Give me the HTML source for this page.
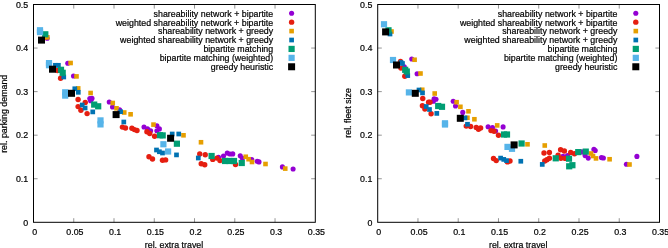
<!DOCTYPE html>
<html><head><meta charset="utf-8"><title>chart</title>
<style>
html,body{margin:0;padding:0;background:#fff;}
svg{display:block;will-change:transform;filter:blur(0.3px);font-family:"Liberation Sans",sans-serif;font-size:8.85px;fill:#000;}
text{stroke:#000;stroke-width:0.2px;}
</style></head><body>
<svg width="668" height="248" viewBox="0 0 668 248">
<rect width="668" height="248" fill="#fff"/>
<rect x="33.5" y="4.5" width="281.80" height="217.80" fill="none" stroke="#000" stroke-width="1"/>
<path d="M73.76 222.3 v-4.1 M73.76 4.5 v4.1 M114.01 222.3 v-4.1 M114.01 4.5 v4.1 M154.27 222.3 v-4.1 M154.27 4.5 v4.1 M194.53 222.3 v-4.1 M194.53 4.5 v4.1 M234.79 222.3 v-4.1 M234.79 4.5 v4.1 M275.04 222.3 v-4.1 M275.04 4.5 v4.1 M33.5 178.74 h4.1 M315.30 178.74 h-4.1 M33.5 135.18 h4.1 M315.30 135.18 h-4.1 M33.5 91.62 h4.1 M315.30 91.62 h-4.1 M33.5 48.06 h4.1 M315.30 48.06 h-4.1" stroke="#000" stroke-width="0.42" fill="none"/>
<text transform="translate(34.60 234.70) scale(1 1.06)" text-anchor="middle">0</text>
<text transform="translate(74.86 234.70) scale(1 1.06)" text-anchor="middle">0.05</text>
<text transform="translate(115.11 234.70) scale(1 1.06)" text-anchor="middle">0.1</text>
<text transform="translate(155.37 234.70) scale(1 1.06)" text-anchor="middle">0.15</text>
<text transform="translate(195.63 234.70) scale(1 1.06)" text-anchor="middle">0.2</text>
<text transform="translate(235.89 234.70) scale(1 1.06)" text-anchor="middle">0.25</text>
<text transform="translate(276.14 234.70) scale(1 1.06)" text-anchor="middle">0.3</text>
<text transform="translate(316.40 234.70) scale(1 1.06)" text-anchor="middle">0.35</text>
<text transform="translate(28.20 225.60) scale(1 1.06)" text-anchor="end">0</text>
<text transform="translate(28.20 182.04) scale(1 1.06)" text-anchor="end">0.1</text>
<text transform="translate(28.20 138.48) scale(1 1.06)" text-anchor="end">0.2</text>
<text transform="translate(28.20 94.92) scale(1 1.06)" text-anchor="end">0.3</text>
<text transform="translate(28.20 51.36) scale(1 1.06)" text-anchor="end">0.4</text>
<text transform="translate(28.20 7.80) scale(1 1.06)" text-anchor="end">0.5</text>
<text transform="translate(174.00 247.50) scale(1 1.06)" text-anchor="middle">rel. extra travel</text>
<text transform="translate(6.80 113.80) rotate(-90) scale(1 1.06)" text-anchor="middle">rel. parking demand</text>
<text transform="translate(273.20 16.65) scale(1 1.06)" text-anchor="end">shareability network + bipartite</text>
<circle cx="291.60" cy="13.25" r="2.55" fill="#9400D3"/>
<text transform="translate(273.20 25.57) scale(1 1.06)" text-anchor="end">weighted shareability network + bipartite</text>
<circle cx="291.60" cy="22.17" r="2.70" fill="#E51E10"/>
<text transform="translate(273.20 34.49) scale(1 1.06)" text-anchor="end">shareability network + greedy</text>
<rect x="289.30" y="28.79" width="4.60" height="4.60" fill="#E69F00"/>
<text transform="translate(273.20 43.41) scale(1 1.06)" text-anchor="end">weighted shareability network + greedy</text>
<rect x="289.25" y="37.66" width="4.70" height="4.70" fill="#0072B2"/>
<text transform="translate(273.20 52.33) scale(1 1.06)" text-anchor="end">bipartite matching</text>
<rect x="288.50" y="45.83" width="6.20" height="6.20" fill="#009E73"/>
<text transform="translate(273.20 61.25) scale(1 1.06)" text-anchor="end">bipartite matching (weighted)</text>
<rect x="288.50" y="54.75" width="6.20" height="6.20" fill="#56B4E9"/>
<text transform="translate(273.20 70.17) scale(1 1.06)" text-anchor="end">greedy heuristic</text>
<rect x="288.10" y="63.27" width="7.00" height="7.00" fill="#000000"/>
<circle cx="47.20" cy="38.30" r="2.55" fill="#9400D3"/>
<circle cx="67.75" cy="63.25" r="2.55" fill="#9400D3"/>
<circle cx="73.50" cy="76.00" r="2.55" fill="#9400D3"/>
<circle cx="89.80" cy="98.60" r="2.55" fill="#9400D3"/>
<circle cx="92.00" cy="98.40" r="2.55" fill="#9400D3"/>
<circle cx="90.60" cy="100.80" r="2.55" fill="#9400D3"/>
<circle cx="109.25" cy="102.00" r="2.55" fill="#9400D3"/>
<circle cx="112.50" cy="107.00" r="2.55" fill="#9400D3"/>
<circle cx="119.60" cy="109.90" r="2.55" fill="#9400D3"/>
<circle cx="144.00" cy="127.00" r="2.55" fill="#9400D3"/>
<circle cx="147.50" cy="128.90" r="2.55" fill="#9400D3"/>
<circle cx="150.60" cy="130.75" r="2.55" fill="#9400D3"/>
<circle cx="156.90" cy="125.75" r="2.55" fill="#9400D3"/>
<circle cx="159.40" cy="128.90" r="2.55" fill="#9400D3"/>
<circle cx="156.90" cy="130.75" r="2.55" fill="#9400D3"/>
<circle cx="218.50" cy="157.25" r="2.55" fill="#9400D3"/>
<circle cx="223.50" cy="156.00" r="2.55" fill="#9400D3"/>
<circle cx="227.25" cy="153.10" r="2.55" fill="#9400D3"/>
<circle cx="230.00" cy="154.00" r="2.55" fill="#9400D3"/>
<circle cx="232.75" cy="153.90" r="2.55" fill="#9400D3"/>
<circle cx="240.25" cy="155.75" r="2.55" fill="#9400D3"/>
<circle cx="242.40" cy="158.25" r="2.55" fill="#9400D3"/>
<circle cx="251.75" cy="159.60" r="2.55" fill="#9400D3"/>
<circle cx="257.20" cy="161.20" r="2.55" fill="#9400D3"/>
<circle cx="259.00" cy="161.90" r="2.55" fill="#9400D3"/>
<circle cx="282.40" cy="166.90" r="2.55" fill="#9400D3"/>
<circle cx="293.10" cy="169.00" r="2.55" fill="#9400D3"/>
<circle cx="44.50" cy="37.50" r="2.70" fill="#E51E10"/>
<circle cx="57.50" cy="70.50" r="2.70" fill="#E51E10"/>
<circle cx="60.60" cy="78.25" r="2.70" fill="#E51E10"/>
<circle cx="78.10" cy="99.50" r="2.70" fill="#E51E10"/>
<circle cx="85.25" cy="102.40" r="2.70" fill="#E51E10"/>
<circle cx="78.10" cy="106.60" r="2.70" fill="#E51E10"/>
<circle cx="80.90" cy="110.25" r="2.70" fill="#E51E10"/>
<circle cx="87.10" cy="113.60" r="2.70" fill="#E51E10"/>
<circle cx="122.40" cy="127.10" r="2.70" fill="#E51E10"/>
<circle cx="125.50" cy="128.00" r="2.70" fill="#E51E10"/>
<circle cx="131.90" cy="128.20" r="2.70" fill="#E51E10"/>
<circle cx="134.40" cy="129.60" r="2.70" fill="#E51E10"/>
<circle cx="137.00" cy="130.50" r="2.70" fill="#E51E10"/>
<circle cx="146.90" cy="131.75" r="2.70" fill="#E51E10"/>
<circle cx="149.75" cy="133.50" r="2.70" fill="#E51E10"/>
<circle cx="154.60" cy="136.30" r="2.70" fill="#E51E10"/>
<circle cx="149.00" cy="156.75" r="2.70" fill="#E51E10"/>
<circle cx="152.50" cy="159.00" r="2.70" fill="#E51E10"/>
<circle cx="162.50" cy="160.25" r="2.70" fill="#E51E10"/>
<circle cx="165.60" cy="159.90" r="2.70" fill="#E51E10"/>
<circle cx="199.75" cy="154.00" r="2.70" fill="#E51E10"/>
<circle cx="205.25" cy="154.75" r="2.70" fill="#E51E10"/>
<circle cx="201.25" cy="163.75" r="2.70" fill="#E51E10"/>
<circle cx="204.75" cy="164.75" r="2.70" fill="#E51E10"/>
<circle cx="212.75" cy="159.40" r="2.70" fill="#E51E10"/>
<circle cx="216.90" cy="158.10" r="2.70" fill="#E51E10"/>
<circle cx="220.00" cy="160.60" r="2.70" fill="#E51E10"/>
<circle cx="235.50" cy="164.50" r="2.70" fill="#E51E10"/>
<rect x="45.00" y="35.00" width="4.60" height="4.60" fill="#E69F00"/>
<rect x="68.30" y="60.70" width="4.60" height="4.60" fill="#E69F00"/>
<rect x="74.20" y="74.10" width="4.60" height="4.60" fill="#E69F00"/>
<rect x="75.90" y="86.10" width="4.60" height="4.60" fill="#E69F00"/>
<rect x="88.30" y="90.70" width="4.60" height="4.60" fill="#E69F00"/>
<rect x="110.45" y="100.70" width="4.60" height="4.60" fill="#E69F00"/>
<rect x="114.20" y="106.00" width="4.60" height="4.60" fill="#E69F00"/>
<rect x="121.95" y="110.20" width="4.60" height="4.60" fill="#E69F00"/>
<rect x="128.30" y="112.00" width="4.60" height="4.60" fill="#E69F00"/>
<rect x="151.20" y="122.30" width="4.60" height="4.60" fill="#E69F00"/>
<rect x="181.20" y="133.00" width="4.60" height="4.60" fill="#E69F00"/>
<rect x="198.70" y="139.95" width="4.60" height="4.60" fill="#E69F00"/>
<rect x="243.45" y="154.45" width="4.60" height="4.60" fill="#E69F00"/>
<rect x="246.30" y="156.90" width="4.60" height="4.60" fill="#E69F00"/>
<rect x="249.70" y="159.70" width="4.60" height="4.60" fill="#E69F00"/>
<rect x="263.20" y="161.70" width="4.60" height="4.60" fill="#E69F00"/>
<rect x="282.95" y="166.30" width="4.60" height="4.60" fill="#E69F00"/>
<rect x="53.05" y="62.95" width="4.70" height="4.70" fill="#0072B2"/>
<rect x="56.05" y="62.95" width="4.70" height="4.70" fill="#0072B2"/>
<rect x="61.40" y="74.65" width="4.70" height="4.70" fill="#0072B2"/>
<rect x="72.45" y="86.40" width="4.70" height="4.70" fill="#0072B2"/>
<rect x="75.95" y="89.95" width="4.70" height="4.70" fill="#0072B2"/>
<rect x="79.85" y="102.65" width="4.70" height="4.70" fill="#0072B2"/>
<rect x="82.75" y="105.65" width="4.70" height="4.70" fill="#0072B2"/>
<rect x="90.40" y="109.55" width="4.70" height="4.70" fill="#0072B2"/>
<rect x="118.25" y="109.35" width="4.70" height="4.70" fill="#0072B2"/>
<rect x="121.45" y="119.65" width="4.70" height="4.70" fill="#0072B2"/>
<rect x="169.85" y="131.65" width="4.70" height="4.70" fill="#0072B2"/>
<rect x="176.40" y="131.65" width="4.70" height="4.70" fill="#0072B2"/>
<rect x="154.15" y="147.65" width="4.70" height="4.70" fill="#0072B2"/>
<rect x="157.05" y="149.40" width="4.70" height="4.70" fill="#0072B2"/>
<rect x="160.15" y="150.65" width="4.70" height="4.70" fill="#0072B2"/>
<rect x="174.15" y="152.55" width="4.70" height="4.70" fill="#0072B2"/>
<rect x="195.95" y="155.65" width="4.70" height="4.70" fill="#0072B2"/>
<rect x="42.20" y="31.20" width="6.20" height="6.20" fill="#009E73"/>
<rect x="57.90" y="66.70" width="6.20" height="6.20" fill="#009E73"/>
<rect x="59.60" y="69.70" width="6.20" height="6.20" fill="#009E73"/>
<rect x="91.10" y="101.50" width="6.20" height="6.20" fill="#009E73"/>
<rect x="95.10" y="103.20" width="6.20" height="6.20" fill="#009E73"/>
<rect x="156.90" y="132.10" width="6.20" height="6.20" fill="#009E73"/>
<rect x="159.60" y="132.30" width="6.20" height="6.20" fill="#009E73"/>
<rect x="173.80" y="140.60" width="6.20" height="6.20" fill="#009E73"/>
<rect x="208.50" y="152.90" width="6.20" height="6.20" fill="#009E73"/>
<rect x="221.90" y="157.90" width="6.20" height="6.20" fill="#009E73"/>
<rect x="226.40" y="157.90" width="6.20" height="6.20" fill="#009E73"/>
<rect x="230.90" y="157.90" width="6.20" height="6.20" fill="#009E73"/>
<rect x="238.65" y="159.90" width="6.20" height="6.20" fill="#009E73"/>
<rect x="36.90" y="27.15" width="6.20" height="6.20" fill="#56B4E9"/>
<rect x="36.90" y="29.00" width="6.20" height="6.20" fill="#56B4E9"/>
<rect x="45.90" y="60.00" width="6.20" height="6.20" fill="#56B4E9"/>
<rect x="45.90" y="62.10" width="6.20" height="6.20" fill="#56B4E9"/>
<rect x="62.10" y="89.20" width="6.20" height="6.20" fill="#56B4E9"/>
<rect x="62.10" y="92.50" width="6.20" height="6.20" fill="#56B4E9"/>
<rect x="97.40" y="117.30" width="6.20" height="6.20" fill="#56B4E9"/>
<rect x="97.40" y="121.30" width="6.20" height="6.20" fill="#56B4E9"/>
<rect x="160.30" y="141.15" width="6.20" height="6.20" fill="#56B4E9"/>
<rect x="165.00" y="148.40" width="6.20" height="6.20" fill="#56B4E9"/>
<rect x="38.00" y="36.60" width="7.00" height="7.00" fill="#000000"/>
<rect x="49.00" y="65.70" width="7.00" height="7.00" fill="#000000"/>
<rect x="68.00" y="89.80" width="7.00" height="7.00" fill="#000000"/>
<rect x="112.60" y="111.10" width="7.00" height="7.00" fill="#000000"/>
<rect x="167.10" y="134.75" width="7.00" height="7.00" fill="#000000"/>
<rect x="377.7" y="4.5" width="281.80" height="217.80" fill="none" stroke="#000" stroke-width="1"/>
<path d="M417.96 222.3 v-4.1 M417.96 4.5 v4.1 M458.21 222.3 v-4.1 M458.21 4.5 v4.1 M498.47 222.3 v-4.1 M498.47 4.5 v4.1 M538.73 222.3 v-4.1 M538.73 4.5 v4.1 M578.99 222.3 v-4.1 M578.99 4.5 v4.1 M619.24 222.3 v-4.1 M619.24 4.5 v4.1 M377.7 178.74 h4.1 M659.50 178.74 h-4.1 M377.7 135.18 h4.1 M659.50 135.18 h-4.1 M377.7 91.62 h4.1 M659.50 91.62 h-4.1 M377.7 48.06 h4.1 M659.50 48.06 h-4.1" stroke="#000" stroke-width="0.42" fill="none"/>
<text transform="translate(378.80 234.70) scale(1 1.06)" text-anchor="middle">0</text>
<text transform="translate(419.06 234.70) scale(1 1.06)" text-anchor="middle">0.05</text>
<text transform="translate(459.31 234.70) scale(1 1.06)" text-anchor="middle">0.1</text>
<text transform="translate(499.57 234.70) scale(1 1.06)" text-anchor="middle">0.15</text>
<text transform="translate(539.83 234.70) scale(1 1.06)" text-anchor="middle">0.2</text>
<text transform="translate(580.09 234.70) scale(1 1.06)" text-anchor="middle">0.25</text>
<text transform="translate(620.34 234.70) scale(1 1.06)" text-anchor="middle">0.3</text>
<text transform="translate(660.60 234.70) scale(1 1.06)" text-anchor="middle">0.35</text>
<text transform="translate(372.40 225.60) scale(1 1.06)" text-anchor="end">0</text>
<text transform="translate(372.40 182.04) scale(1 1.06)" text-anchor="end">0.1</text>
<text transform="translate(372.40 138.48) scale(1 1.06)" text-anchor="end">0.2</text>
<text transform="translate(372.40 94.92) scale(1 1.06)" text-anchor="end">0.3</text>
<text transform="translate(372.40 51.36) scale(1 1.06)" text-anchor="end">0.4</text>
<text transform="translate(372.40 7.80) scale(1 1.06)" text-anchor="end">0.5</text>
<text transform="translate(518.20 247.50) scale(1 1.06)" text-anchor="middle">rel. extra travel</text>
<text transform="translate(351.20 112.90) rotate(-90) scale(1 1.06)" text-anchor="middle">rel. fleet size</text>
<text transform="translate(617.40 16.65) scale(1 1.06)" text-anchor="end">shareability network + bipartite</text>
<circle cx="635.80" cy="13.25" r="2.55" fill="#9400D3"/>
<text transform="translate(617.40 25.57) scale(1 1.06)" text-anchor="end">weighted shareability network + bipartite</text>
<circle cx="635.80" cy="22.17" r="2.70" fill="#E51E10"/>
<text transform="translate(617.40 34.49) scale(1 1.06)" text-anchor="end">shareability network + greedy</text>
<rect x="633.50" y="28.79" width="4.60" height="4.60" fill="#E69F00"/>
<text transform="translate(617.40 43.41) scale(1 1.06)" text-anchor="end">weighted shareability network + greedy</text>
<rect x="633.45" y="37.66" width="4.70" height="4.70" fill="#0072B2"/>
<text transform="translate(617.40 52.33) scale(1 1.06)" text-anchor="end">bipartite matching</text>
<rect x="632.70" y="45.83" width="6.20" height="6.20" fill="#009E73"/>
<text transform="translate(617.40 61.25) scale(1 1.06)" text-anchor="end">bipartite matching (weighted)</text>
<rect x="632.70" y="54.75" width="6.20" height="6.20" fill="#56B4E9"/>
<text transform="translate(617.40 70.17) scale(1 1.06)" text-anchor="end">greedy heuristic</text>
<rect x="632.30" y="63.27" width="7.00" height="7.00" fill="#000000"/>
<circle cx="404.30" cy="66.70" r="2.55" fill="#9400D3"/>
<circle cx="411.75" cy="59.00" r="2.55" fill="#9400D3"/>
<circle cx="417.10" cy="73.75" r="2.55" fill="#9400D3"/>
<circle cx="434.10" cy="98.80" r="2.55" fill="#9400D3"/>
<circle cx="436.00" cy="99.30" r="2.55" fill="#9400D3"/>
<circle cx="433.40" cy="101.20" r="2.55" fill="#9400D3"/>
<circle cx="453.20" cy="101.20" r="2.55" fill="#9400D3"/>
<circle cx="455.50" cy="106.00" r="2.55" fill="#9400D3"/>
<circle cx="462.75" cy="112.40" r="2.55" fill="#9400D3"/>
<circle cx="488.10" cy="126.80" r="2.55" fill="#9400D3"/>
<circle cx="492.50" cy="127.60" r="2.55" fill="#9400D3"/>
<circle cx="503.10" cy="126.90" r="2.55" fill="#9400D3"/>
<circle cx="495.60" cy="131.00" r="2.55" fill="#9400D3"/>
<circle cx="567.50" cy="155.50" r="2.55" fill="#9400D3"/>
<circle cx="563.00" cy="156.40" r="2.55" fill="#9400D3"/>
<circle cx="582.00" cy="151.90" r="2.55" fill="#9400D3"/>
<circle cx="585.10" cy="155.60" r="2.55" fill="#9400D3"/>
<circle cx="588.25" cy="158.10" r="2.55" fill="#9400D3"/>
<circle cx="593.90" cy="149.40" r="2.55" fill="#9400D3"/>
<circle cx="595.25" cy="150.50" r="2.55" fill="#9400D3"/>
<circle cx="601.40" cy="157.60" r="2.55" fill="#9400D3"/>
<circle cx="603.40" cy="158.00" r="2.55" fill="#9400D3"/>
<circle cx="626.40" cy="164.25" r="2.55" fill="#9400D3"/>
<circle cx="636.90" cy="156.40" r="2.55" fill="#9400D3"/>
<circle cx="400.50" cy="61.50" r="2.70" fill="#E51E10"/>
<circle cx="400.90" cy="68.10" r="2.70" fill="#E51E10"/>
<circle cx="404.80" cy="76.25" r="2.70" fill="#E51E10"/>
<circle cx="422.75" cy="98.50" r="2.70" fill="#E51E10"/>
<circle cx="428.60" cy="102.30" r="2.70" fill="#E51E10"/>
<circle cx="430.00" cy="102.20" r="2.70" fill="#E51E10"/>
<circle cx="422.40" cy="105.75" r="2.70" fill="#E51E10"/>
<circle cx="424.90" cy="109.10" r="2.70" fill="#E51E10"/>
<circle cx="431.10" cy="113.75" r="2.70" fill="#E51E10"/>
<circle cx="466.25" cy="126.10" r="2.70" fill="#E51E10"/>
<circle cx="470.60" cy="126.50" r="2.70" fill="#E51E10"/>
<circle cx="476.25" cy="127.40" r="2.70" fill="#E51E10"/>
<circle cx="480.60" cy="128.00" r="2.70" fill="#E51E10"/>
<circle cx="478.50" cy="129.25" r="2.70" fill="#E51E10"/>
<circle cx="491.00" cy="130.60" r="2.70" fill="#E51E10"/>
<circle cx="494.00" cy="131.20" r="2.70" fill="#E51E10"/>
<circle cx="498.50" cy="135.25" r="2.70" fill="#E51E10"/>
<circle cx="493.50" cy="158.50" r="2.70" fill="#E51E10"/>
<circle cx="496.25" cy="160.60" r="2.70" fill="#E51E10"/>
<circle cx="507.50" cy="161.90" r="2.70" fill="#E51E10"/>
<circle cx="510.00" cy="161.00" r="2.70" fill="#E51E10"/>
<circle cx="544.00" cy="153.00" r="2.70" fill="#E51E10"/>
<circle cx="549.40" cy="152.50" r="2.70" fill="#E51E10"/>
<circle cx="549.40" cy="158.20" r="2.70" fill="#E51E10"/>
<circle cx="546.90" cy="159.75" r="2.70" fill="#E51E10"/>
<circle cx="544.75" cy="161.00" r="2.70" fill="#E51E10"/>
<circle cx="560.60" cy="149.80" r="2.70" fill="#E51E10"/>
<circle cx="564.40" cy="151.00" r="2.70" fill="#E51E10"/>
<circle cx="558.10" cy="155.10" r="2.70" fill="#E51E10"/>
<circle cx="560.90" cy="158.30" r="2.70" fill="#E51E10"/>
<circle cx="565.20" cy="158.40" r="2.70" fill="#E51E10"/>
<circle cx="570.70" cy="152.40" r="2.70" fill="#E51E10"/>
<circle cx="574.50" cy="153.75" r="2.70" fill="#E51E10"/>
<rect x="389.20" y="29.20" width="4.60" height="4.60" fill="#E69F00"/>
<rect x="412.30" y="57.45" width="4.60" height="4.60" fill="#E69F00"/>
<rect x="418.20" y="71.20" width="4.60" height="4.60" fill="#E69F00"/>
<rect x="419.95" y="87.45" width="4.60" height="4.60" fill="#E69F00"/>
<rect x="432.40" y="91.20" width="4.60" height="4.60" fill="#E69F00"/>
<rect x="454.30" y="99.90" width="4.60" height="4.60" fill="#E69F00"/>
<rect x="458.10" y="104.50" width="4.60" height="4.60" fill="#E69F00"/>
<rect x="466.20" y="109.00" width="4.60" height="4.60" fill="#E69F00"/>
<rect x="465.10" y="115.45" width="4.60" height="4.60" fill="#E69F00"/>
<rect x="472.10" y="116.95" width="4.60" height="4.60" fill="#E69F00"/>
<rect x="494.90" y="123.10" width="4.60" height="4.60" fill="#E69F00"/>
<rect x="525.20" y="142.00" width="4.60" height="4.60" fill="#E69F00"/>
<rect x="542.45" y="143.20" width="4.60" height="4.60" fill="#E69F00"/>
<rect x="588.70" y="151.20" width="4.60" height="4.60" fill="#E69F00"/>
<rect x="590.70" y="153.70" width="4.60" height="4.60" fill="#E69F00"/>
<rect x="593.70" y="156.10" width="4.60" height="4.60" fill="#E69F00"/>
<rect x="607.30" y="156.95" width="4.60" height="4.60" fill="#E69F00"/>
<rect x="627.20" y="162.20" width="4.60" height="4.60" fill="#E69F00"/>
<rect x="387.65" y="31.65" width="4.70" height="4.70" fill="#0072B2"/>
<rect x="398.65" y="60.15" width="4.70" height="4.70" fill="#0072B2"/>
<rect x="400.15" y="61.15" width="4.70" height="4.70" fill="#0072B2"/>
<rect x="405.40" y="73.25" width="4.70" height="4.70" fill="#0072B2"/>
<rect x="416.65" y="87.65" width="4.70" height="4.70" fill="#0072B2"/>
<rect x="420.15" y="90.55" width="4.70" height="4.70" fill="#0072B2"/>
<rect x="423.85" y="104.15" width="4.70" height="4.70" fill="#0072B2"/>
<rect x="427.15" y="107.15" width="4.70" height="4.70" fill="#0072B2"/>
<rect x="434.45" y="111.05" width="4.70" height="4.70" fill="#0072B2"/>
<rect x="462.65" y="115.55" width="4.70" height="4.70" fill="#0072B2"/>
<rect x="465.15" y="121.90" width="4.70" height="4.70" fill="#0072B2"/>
<rect x="498.25" y="155.75" width="4.70" height="4.70" fill="#0072B2"/>
<rect x="501.40" y="157.05" width="4.70" height="4.70" fill="#0072B2"/>
<rect x="504.15" y="158.25" width="4.70" height="4.70" fill="#0072B2"/>
<rect x="518.45" y="158.90" width="4.70" height="4.70" fill="#0072B2"/>
<rect x="539.90" y="162.05" width="4.70" height="4.70" fill="#0072B2"/>
<rect x="385.40" y="27.20" width="6.20" height="6.20" fill="#009E73"/>
<rect x="402.10" y="66.70" width="6.20" height="6.20" fill="#009E73"/>
<rect x="403.70" y="68.40" width="6.20" height="6.20" fill="#009E73"/>
<rect x="435.10" y="102.90" width="6.20" height="6.20" fill="#009E73"/>
<rect x="438.90" y="103.70" width="6.20" height="6.20" fill="#009E73"/>
<rect x="500.90" y="131.40" width="6.20" height="6.20" fill="#009E73"/>
<rect x="503.90" y="131.40" width="6.20" height="6.20" fill="#009E73"/>
<rect x="518.50" y="140.40" width="6.20" height="6.20" fill="#009E73"/>
<rect x="552.65" y="155.20" width="6.20" height="6.20" fill="#009E73"/>
<rect x="565.90" y="155.60" width="6.20" height="6.20" fill="#009E73"/>
<rect x="566.10" y="163.20" width="6.20" height="6.20" fill="#009E73"/>
<rect x="569.30" y="162.10" width="6.20" height="6.20" fill="#009E73"/>
<rect x="575.15" y="149.00" width="6.20" height="6.20" fill="#009E73"/>
<rect x="582.65" y="148.50" width="6.20" height="6.20" fill="#009E73"/>
<rect x="380.90" y="21.15" width="6.20" height="6.20" fill="#56B4E9"/>
<rect x="389.90" y="56.90" width="6.20" height="6.20" fill="#56B4E9"/>
<rect x="405.80" y="89.30" width="6.20" height="6.20" fill="#56B4E9"/>
<rect x="441.90" y="120.20" width="6.20" height="6.20" fill="#56B4E9"/>
<rect x="441.90" y="121.40" width="6.20" height="6.20" fill="#56B4E9"/>
<rect x="504.40" y="143.80" width="6.20" height="6.20" fill="#56B4E9"/>
<rect x="508.90" y="145.70" width="6.20" height="6.20" fill="#56B4E9"/>
<rect x="382.10" y="28.40" width="7.00" height="7.00" fill="#000000"/>
<rect x="393.00" y="61.50" width="7.00" height="7.00" fill="#000000"/>
<rect x="411.80" y="89.80" width="7.00" height="7.00" fill="#000000"/>
<rect x="456.80" y="114.80" width="7.00" height="7.00" fill="#000000"/>
<rect x="510.60" y="141.40" width="7.00" height="7.00" fill="#000000"/>
</svg>
</body></html>
